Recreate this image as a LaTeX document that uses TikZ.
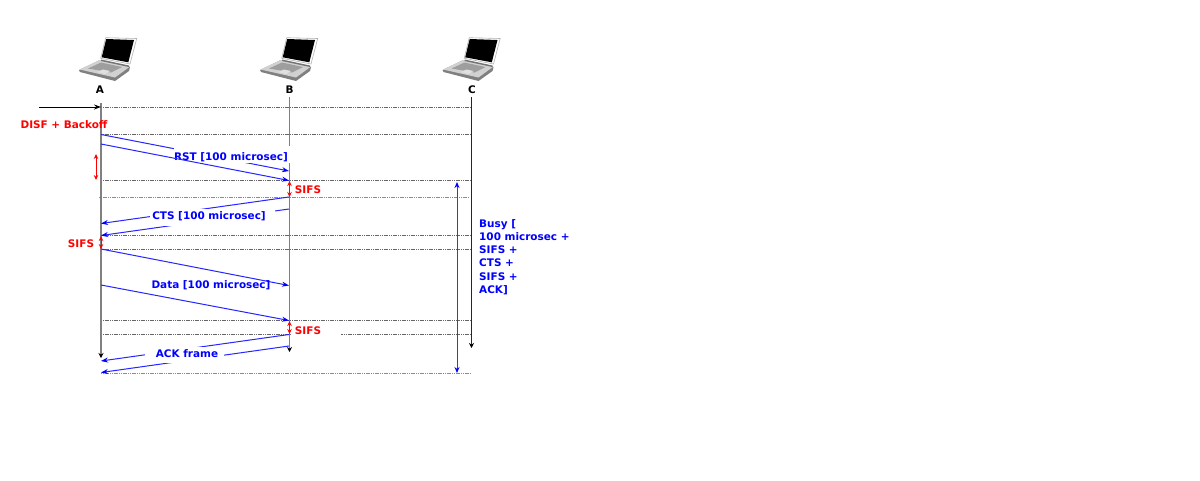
\documentclass[tikz,border=0pt]{standalone}
\usepackage{fontspec}
\setmainfont{DejaVu Sans}
\usetikzlibrary{arrows.meta}
\definecolor{bl}{rgb}{0,0,1}
\tikzset{
  x=1pt,y=-1pt,
  life/.style={draw=black!50,line width=1.5pt},
  lifeend/.style={-{Stealth[length=5pt,width=5pt,black]}},
  dots/.style={draw=black!60,line width=.8pt,dash pattern=on 1.2pt off .6pt},
  msg/.style={draw=bl!85,line width=1pt,-{Stealth[length=7pt,width=5pt,bl]}},
  red2/.style={draw=red,line width=1pt,{Stealth[length=5pt,width=4.5pt]}-{Stealth[length=5pt,width=4.5pt]}},
  bluelbl/.style={font=\bfseries\fontsize{10.45}{13.1}\selectfont,text=bl,inner sep=0pt},
  redlbl/.style={font=\bfseries\fontsize{10.45}{13}\selectfont,text=red,inner sep=0pt},
  who/.style={font=\bfseries\fontsize{10.45}{13}\selectfont,inner sep=0pt},
  mask/.style={fill=white,draw=none},
  laptop/.pic={
    \fill[black!50] (79,70) -- (100,60) -- (130,67) -- (129,71) -- (115,81) -- (80,72) -- cycle;
    \fill[black!18] (79.5,69.5) -- (100,60) -- (130,66.5) -- (115,77.5) -- cycle;
    \fill[black!38] (88,68.5) -- (101,62.5) -- (122,67) -- (111,72.5) -- cycle;
    \fill[black!12] (97,72) -- (103,69.5) -- (110,71) -- (105,74) -- cycle;
    \fill[black!55] (101,59.5) -- (129,65.5) -- (129,67) -- (101,61) -- cycle;
    \draw[black!30,fill=white,line width=.6pt] (105.7,37.7) -- (136.7,38.5) -- (130,64) -- (100.7,58.3) -- cycle;
    \fill[black] (106.2,39) -- (134,40) -- (128.3,62.3) -- (101.7,57.3) -- cycle;
  }
}
\begin{document}
\begin{tikzpicture}
\useasboundingbox (0,0) rectangle (1200,480);
\fill[white] (0,0) rectangle (1200,480);
\pic at (0,0) {laptop};
\pic at (181,0) {laptop};
\pic at (363.5,0) {laptop};
\node[who] (A) at (100,89.5) {A};
\node[who] (B) at (289.5,89.5) {B};
\node[who] (C) at (472,89.5) {C};

\coordinate (Atop) at (101,103); \coordinate (Aend) at (101,358);
\coordinate (Btop) at (289.5,97); \coordinate (Bend) at (289.5,352);
\coordinate (Ctop) at (471.5,97); \coordinate (Cend) at (471.5,348);
\coordinate (Start) at (39,107);

\foreach \n/\y in {a/107,b/134.5,c/180.5,d/197,e/235.5,f/249,g/320.5,h/334.5,i/373}{
  \coordinate (L\n) at (101,\y);
  \coordinate (R\n) at (471,\y);
}
\foreach \n in {a,b,c,e,f,g,h}{\draw[dots] (L\n) -- (R\n);}
\draw[dots,draw=black!45] ([xshift=-2pt]Ld) -- ([xshift=-2pt]Rd);
\draw[dots,draw=black!45] (Li) -- (Ri);

\draw[life,lifeend] (Atop) -- (Aend);
\draw[life,lifeend] (Btop) -- (Bend);
\draw[draw=black!85,line width=1.1pt,lifeend] (Ctop) -- (Cend);
\draw[draw=black,line width=1pt,-{Stealth[length=7pt,width=5pt]}] (Start) -- (La);

% RST
\draw[msg] (101,134.5) -- (289,171);
\fill[mask] (174,146) rectangle (291,163);
\node[bluelbl] (rst) at (231,157) {RST [100 microsec]};
\draw[msg] (101,144) -- (289,180.5);
% CTS
\draw[msg] (289,197) -- (101,223.5);
\draw[msg] (289,209) -- (101,235.5);
\fill[mask] (150,209) rectangle (275,226);
\node[bluelbl] (cts) at (209,216) {CTS [100 microsec]};
% Data
\draw[msg] (101,249) -- (289,285.5);
\draw[msg] (101,285) -- (289,320.5);
\node[bluelbl] (data) at (211,285.5) {Data [100 microsec]};
% SIFS mask
\fill[mask] (292,325) rectangle (341,337);
% ACK
\draw[msg] (289,334.5) -- (101,361);
\draw[msg] (289,346) -- (101,372.5);
\fill[mask] (145,346.5) rectangle (224,362.5);
\node[bluelbl] (ack) at (187,353.5) {ACK frame};

% Red
\node[redlbl] (disf) at (64,124.5) {DISF + Backoff};
\draw[red2] (96,154) -- (96,180);
\draw[red2] (101,236) -- (101,249);
\draw[red2] (289.5,181) -- (289.5,197);
\draw[red2] (289.5,321) -- (289.5,334);
\node[redlbl] (s1) at (308,190) {SIFS};
\node[redlbl] (s2) at (81,243.5) {SIFS};
\node[redlbl] (s3) at (308,330.5) {SIFS};

% Busy
\draw[draw=bl!80,line width=1pt,{Stealth[length=6pt,width=5pt,bl]}-{Stealth[length=6pt,width=5pt,bl]}] (457,182) -- (457,373);
\node[bluelbl,anchor=north west,align=left] (busy) at (479,219.5) {Busy [\\100 microsec +\\SIFS +\\CTS +\\SIFS +\\ACK]};
\end{tikzpicture}
\end{document}
